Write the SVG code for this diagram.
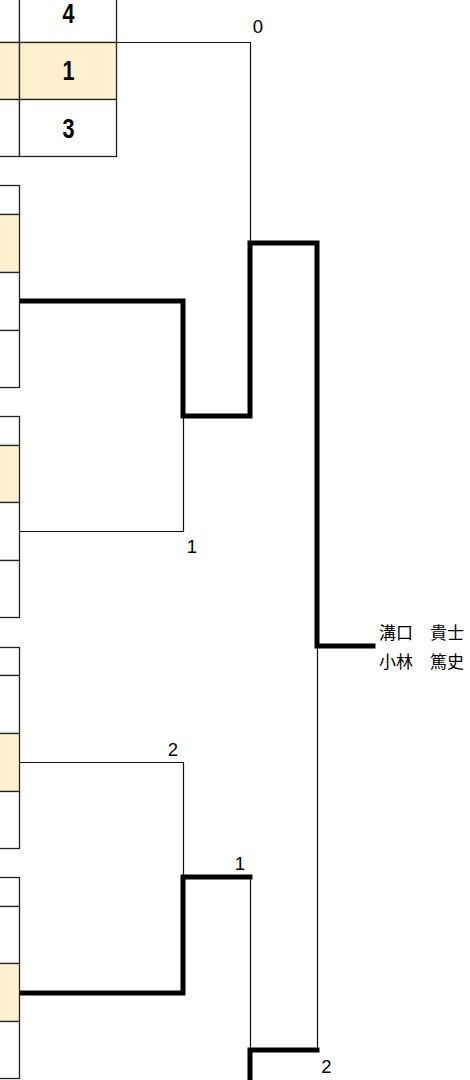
<svg xmlns="http://www.w3.org/2000/svg" width="470" height="1080" viewBox="0 0 470 1080">
<style>
.cell{fill:#fff;stroke:#222;stroke-width:1.3}
.win{fill:#fff1cf;stroke:#222;stroke-width:1.3}
.thin{fill:none;stroke:#111;stroke-width:1.2}
.thick{fill:none;stroke:#000;stroke-width:5;stroke-linecap:square}
.score{font-family:"Liberation Sans",Arial,sans-serif;font-weight:bold;font-size:27px;text-anchor:middle;fill:#000}
.lbl{font-family:"Liberation Sans",Arial,sans-serif;font-size:18.5px;text-anchor:middle;fill:#000}
.name{font-family:"Noto Sans CJK JP",sans-serif;font-size:17px;fill:#000}
</style>
<rect width="470" height="1080" fill="#fff"/>
<g id="connectors">
<path class="thin" d="M116,42.5 H250.5 V243"/>
<path class="thin" d="M19,531.5 H183.5 V416"/>
<path class="thin" d="M19,762.5 H183.5 V877"/>
<path class="thin" d="M250.5,877 V1050"/>
<path class="thin" d="M317.5,1050 V646"/>
<path class="thick" d="M19,301 H183 V416 H250 V243 H317 V646 H373"/>
<path class="thick" d="M19,993 H183 V877 H250"/>
<path class="thick" d="M250,1085 V1050 H317"/>
</g>
<g id="team-group-1">
<rect class="cell" x="-20" y="-44.5" width="39.5" height="29"/>
<rect class="cell" x="-20" y="-15.5" width="39.5" height="58"/>
<rect class="win" x="-20" y="42.5" width="39.5" height="57"/>
<rect class="cell" x="-20" y="99.5" width="39.5" height="57"/>
<rect class="cell" x="19.5" y="-15.5" width="97" height="58"/>
<rect class="win" x="19.5" y="42.5" width="97" height="57"/>
<rect class="cell" x="19.5" y="99.5" width="97" height="57"/>
<text class="score" transform="translate(68.5,23) scale(0.8,1)">4</text>
<text class="score" transform="translate(68.5,80) scale(0.8,1)">1</text>
<text class="score" transform="translate(68.5,137.5) scale(0.8,1)">3</text>
</g>
<g id="team-group-2">
<rect class="cell" x="-20" y="185.5" width="39.5" height="29"/>
<rect class="win" x="-20" y="214.5" width="39.5" height="58"/>
<rect class="cell" x="-20" y="272.5" width="39.5" height="58"/>
<rect class="cell" x="-20" y="330.5" width="39.5" height="57"/>
</g>
<g id="team-group-3">
<rect class="cell" x="-20" y="416.5" width="39.5" height="29"/>
<rect class="win" x="-20" y="445.5" width="39.5" height="57"/>
<rect class="cell" x="-20" y="502.5" width="39.5" height="58"/>
<rect class="cell" x="-20" y="560.5" width="39.5" height="57"/>
</g>
<g id="team-group-4">
<rect class="cell" x="-20" y="647.5" width="39.5" height="28"/>
<rect class="cell" x="-20" y="675.5" width="39.5" height="58"/>
<rect class="win" x="-20" y="733.5" width="39.5" height="58"/>
<rect class="cell" x="-20" y="791.5" width="39.5" height="57"/>
</g>
<g id="team-group-5">
<rect class="cell" x="-20" y="877.5" width="39.5" height="29"/>
<rect class="cell" x="-20" y="906.5" width="39.5" height="57"/>
<rect class="win" x="-20" y="963.5" width="39.5" height="58"/>
<rect class="cell" x="-20" y="1021.5" width="39.5" height="57"/>
</g>
<g id="score-labels">
<text class="lbl" x="258" y="33">0</text>
<text class="lbl" x="192" y="553">1</text>
<text class="lbl" x="173" y="756">2</text>
<text class="lbl" x="240" y="870">1</text>
<text class="lbl" x="326.5" y="1073">2</text>
</g>
<g id="winner">
<text class="name" x="379" y="639">溝口　貴士</text>
<text class="name" x="379" y="668">小林　篤史</text>
</g>
</svg>
